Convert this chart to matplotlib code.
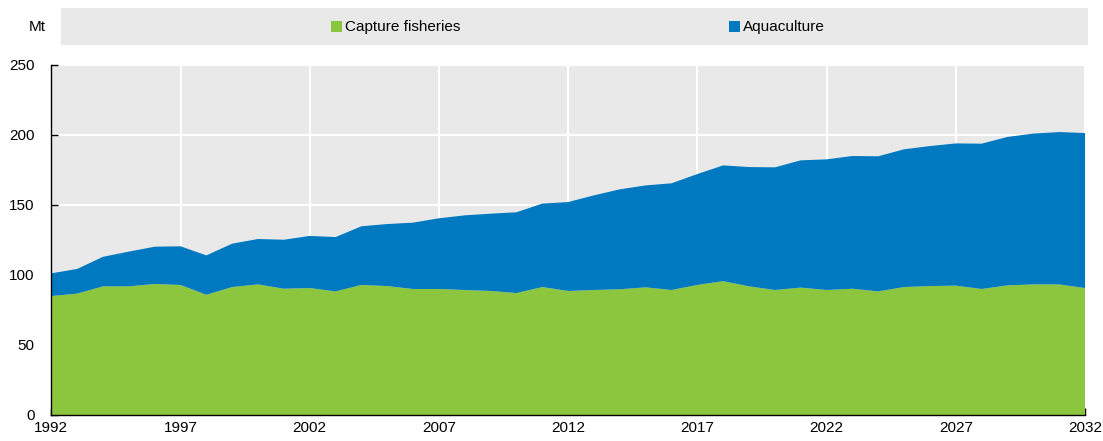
import matplotlib
matplotlib.use("Agg")
import matplotlib.pyplot as plt
from matplotlib.patches import Rectangle

plt.rcParams['font.family'] = ['Liberation Sans', 'DejaVu Sans']

# data (Mt)
years = list(range(1992, 2033))
capture = [85.0, 86.7, 91.9, 91.9, 93.6, 92.9, 85.9, 91.4, 93.3, 90.2,
           90.7, 88.3, 92.9, 92.1, 90.0, 90.0, 89.3, 88.6, 87.1, 91.4,
           88.6, 89.3, 89.8, 91.2, 89.3, 92.9, 95.6, 91.9, 89.3, 91.0,
           89.3, 90.2, 88.3, 91.4, 92.1, 92.4, 90.0, 92.6, 93.3, 93.3,
           90.7]
aquaculture = [16.2, 17.6, 21.1, 24.8, 26.6, 27.6, 28.1, 31.0, 32.4, 35.0,
               37.2, 38.8, 41.9, 44.3, 47.4, 50.5, 53.3, 55.2, 57.7, 59.6,
               63.5, 67.6, 71.4, 72.8, 76.2, 79.2, 82.7, 85.2, 87.6, 90.9,
               93.3, 94.8, 96.5, 98.4, 100.0, 101.6, 103.8, 106.0, 107.7, 108.8,
               110.7]
series_names = ['Capture fisheries', 'Aquaculture']
xticks = list(range(1992, 2033, 5))
yticks = [0, 50, 100, 150, 200, 250]

green = '#8cc63f'
blue = '#0079c0'
grey = '#e9e9e9'
fs = 11

fig = plt.figure(figsize=(11.03, 4.41), dpi=100)
W, H = 1103, 441
ax = fig.add_axes([51.3 / W, 1 - 415 / H, (1085 - 51.3) / W, (415 - 65) / H])

ax.stackplot(years, capture, aquaculture, colors=[green, blue], linewidth=0)
ax.set_facecolor(grey)
ax.set_axisbelow(True)
ax.grid(True, color='white', linewidth=1.5)
ax.set_xlim(1992, 2032)
ax.set_ylim(0, 250)
ax.set_xticks(xticks)
ax.set_yticks(yticks)
for s in ['top', 'right']:
    ax.spines[s].set_visible(False)
for s in ['left', 'bottom']:
    ax.spines[s].set_color('black')
    ax.spines[s].set_linewidth(1.0)
ax.tick_params(axis='both', direction='in', length=5, width=1, labelsize=fs, colors='black')
ax.tick_params(axis='y', pad=12)
ax.tick_params(axis='x', pad=4)

# legend band
fig.add_artist(Rectangle((61 / W, 1 - 45 / H), (1088 - 61) / W, 37 / H,
                         transform=fig.transFigure, facecolor=grey, edgecolor='none'))
fig.text(37 / W, 1 - 27 / H, 'Mt', fontsize=fs, ha='center', va='center')
for xpos, col, name in [(331, green, series_names[0]), (729, blue, series_names[1])]:
    fig.add_artist(Rectangle((xpos / W, 1 - 32 / H), 11 / W, 11 / H,
                             transform=fig.transFigure, facecolor=col, edgecolor='none'))
    fig.text((xpos + 14) / W, 1 - 27 / H, name, fontsize=fs, ha='left', va='center')

fig.savefig('out.png', dpi=100)
